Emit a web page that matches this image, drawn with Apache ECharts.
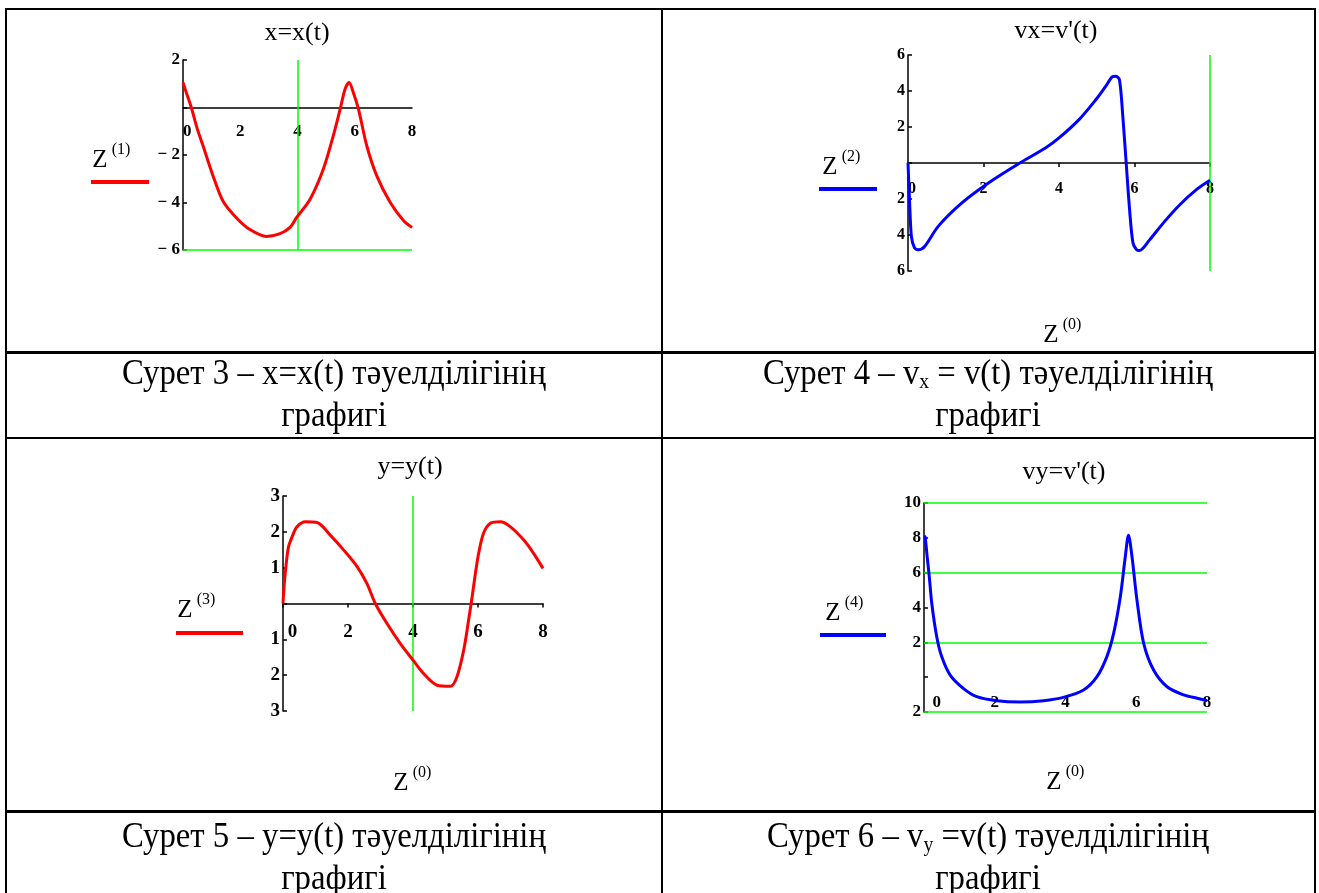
<!DOCTYPE html>
<html>
<head>
<meta charset="utf-8">
<script src="https://cdn.jsdelivr.net/npm/echarts@6/dist/echarts.min.js"></script>
<style>
html,body{margin:0;padding:0;background:#fff;}
#page{position:relative;width:1319px;height:893px;overflow:hidden;background:#fff;}
#chart{position:absolute;left:0;top:0;width:1319px;height:893px;}
.ln{position:absolute;background:#000;}
.cap{position:absolute;width:640px;text-align:center;font-family:"Liberation Serif","Times New Roman",serif;font-size:36px;line-height:42px;color:#000;transform:scaleX(0.91);white-space:nowrap;}
.cap sub{font-size:0.6em;vertical-align:-0.2em;line-height:0;}
</style>
</head>
<body>
<div id="page">
<div id="chart"></div>
<!-- рамка таблицы -->
<div class="ln" style="left:5px;top:8px;width:1311px;height:2px"></div>
<div class="ln" style="left:5px;top:351px;width:1311px;height:3px"></div>
<div class="ln" style="left:5px;top:437px;width:1311px;height:2px"></div>
<div class="ln" style="left:5px;top:810px;width:1311px;height:3px"></div>
<div class="ln" style="left:5px;top:8px;width:2px;height:885px"></div>
<div class="ln" style="left:661px;top:8px;width:2px;height:885px"></div>
<div class="ln" style="left:1314px;top:8px;width:2px;height:885px"></div>
<!-- подписи -->
<div class="cap" style="left:14px;top:351px">Сурет 3 – x=x(t) тәуелділігінің<br>графигі</div>
<div class="cap" style="left:668px;top:351px">Сурет 4 – v<sub>x</sub> = v(t) тәуелділігінің<br>графигі</div>
<div class="cap" style="left:14px;top:814px">Сурет 5 – y=y(t) тәуелділігінің<br>графигі</div>
<div class="cap" style="left:668px;top:814px">Сурет 6 – v<sub>y</sub> =v(t) тәуелділігінің<br>графигі</div>
</div>
<script>
// x=x(t)
var tX=[0,0.1,0.29,0.5,0.7,1.05,1.4,1.87,2.34,2.92,3.39,3.74,3.97,4.44,4.9,5.25,5.49,5.66,5.8,5.95,6.13,6.42,6.77,7.24,7.71,8.0];
var xVals=[1.05,0.68,0,-0.9,-1.61,-2.88,-3.95,-4.65,-5.14,-5.43,-5.31,-5.05,-4.63,-3.86,-2.6,-1.19,-0.07,0.77,1.05,0.63,-0.07,-1.61,-2.88,-4.0,-4.77,-5.05];
// vx=v'(t)
var tVx=[0,0.04,0.09,0.17,0.27,0.44,0.8,1.42,2.13,2.93,3.64,4.0,4.53,4.98,5.24,5.42,5.5,5.6,5.69,5.78,5.87,5.96,6.05,6.13,6.4,6.76,7.2,7.64,8.0];
var vxVals=[0,-2.04,-4.08,-4.7,-4.82,-4.64,-3.52,-2.23,-1.11,-0.04,0.83,1.39,2.41,3.53,4.27,4.8,4.82,4.64,2.6,0,-2.6,-4.45,-4.8,-4.86,-4.27,-3.34,-2.32,-1.48,-0.96];
// y=y(t)
var tY=[0,0.04,0.1,0.17,0.28,0.43,0.69,1.05,1.46,1.87,2.28,2.58,2.84,3.2,3.61,4.0,4.33,4.74,5.15,5.35,5.56,5.71,5.82,5.92,6.02,6.17,6.38,6.69,7.0,7.41,7.71,8.0];
var yVals=[0,0.56,1.12,1.58,1.86,2.14,2.28,2.26,1.9,1.49,1.03,0.56,0,-0.56,-1.12,-1.58,-1.96,-2.28,-2.31,-2.05,-1.3,-0.47,0.19,0.84,1.4,1.96,2.24,2.28,2.14,1.77,1.4,0.98];
// vy=v'(t)
var tVy=[0,0.03,0.09,0.15,0.22,0.36,0.5,0.74,1.11,1.49,2.06,2.72,3.38,3.94,4.51,4.89,5.17,5.36,5.55,5.69,5.78,5.88,6.02,6.21,6.49,6.87,7.34,7.72,8.0];
var vyVals=[8.1,8.06,6.9,5.76,4.23,2.32,1.18,0.12,-0.64,-1.12,-1.35,-1.42,-1.35,-1.16,-0.74,0.03,1.18,2.51,4.62,6.91,8.15,6.91,4.43,1.94,0.41,-0.55,-1.02,-1.21,-1.35];

// оси
var tRange=[0,8,2];
var yRanges=[[-6,2,2],[-6,6,2],[-3,3,1],[-2,10,2]];
var titles=["x=x(t)","vx=v'(t)","y=y(t)","vy=v'(t)"];
var legendIdx=["(1)","(2)","(3)","(4)"];

var serif='"Liberation Serif","Times New Roman",serif';

function pairs(t,v){
    var a=[];
    for(var i=0;i<t.length;i++){
        a.push([t[i],v[i]]);
    }
    return a;
}

var grids=[
    {left:183,top:60,width:229,height:190},
    {left:908,top:55,width:302,height:216},
    {left:283,top:496,width:260,height:215},
    {left:924,top:503,width:283,height:209}
];

// ось t: на нуле (line=true) или внизу без линии
function xAx(i,size,margin,tick,line,pad){
    var r=yRanges[i],g=grids[i];
    var off=line?-g.height*(0-r[0])/(r[1]-r[0]):0;
    return {
        gridIndex:i,type:'value',min:tRange[0],max:tRange[1],interval:tRange[2],
        position:'bottom',offset:off,
        axisLine:{show:line,onZero:false,lineStyle:{color:'#000',width:1.5}},
        axisTick:{show:tick,length:4,lineStyle:{color:'#000',width:1.5}},
        axisLabel:{color:'#000',fontFamily:serif,fontWeight:'bold',fontSize:size,margin:margin,inside:!line,
            formatter:function(v){return v==0?pad+'0':''+v;}},
        splitLine:{show:false}
    };
}
function yAx(i,size,minus){
    var r=yRanges[i];
    return {
        gridIndex:i,type:'value',min:r[0],max:r[1],interval:r[2],
        axisLine:{show:true,onZero:false,lineStyle:{color:'#000',width:1.5}},
        axisTick:{show:true,inside:true,length:4,lineStyle:{color:'#000',width:1.5}},
        axisLabel:{color:'#000',fontFamily:serif,fontWeight:'bold',fontSize:size,margin:3,
            formatter:function(v){
                if(v==0) return '';
                if(v<0) return minus?'− '+(-v):''+(-v);
                return ''+v;
            }},
        splitLine:{show:false}
    };
}

function green(data){
    return {silent:true,symbol:'none',z:1,animation:false,label:{show:false},
        lineStyle:{color:'#00ff00',width:1.5,type:'solid'},data:data};
}

function curve(i,data,color,ml){
    return {
        type:'line',xAxisIndex:i,yAxisIndex:i,data:data,showSymbol:false,smooth:0.3,
        lineStyle:{color:color,width:3},itemStyle:{color:color},z:3,animation:false,
        markLine:green(ml)
    };
}

function txt(x,y,s,size,weight){
    return {type:'text',x:x,y:y,z:10,style:{text:s,fill:'#000',font:(weight||'normal')+' '+size+'px '+serif,
        textAlign:'center',textVerticalAlign:'middle',align:'center',verticalAlign:'middle'}};
}
function seg(x1,x2,y,color){
    return {type:'line',z:10,shape:{x1:x1,y1:y,x2:x2,y2:y},style:{stroke:color,lineWidth:4}};
}
// подпись Z^(n)
function zLabel(x,y,idx){
    return [txt(x,y,'Z',25),txt(x+21,y-10,idx,16)];
}

var graphic=[
    txt(297,33,titles[0],26),
    txt(1056,31,titles[1],26),
    txt(410,467,titles[2],26),
    txt(1064,472,titles[3],26),
    seg(91,149,182,'#ff0000'),
    seg(819,877,189,'#0000ff'),
    seg(176,243,633,'#ff0000'),
    seg(820,886,635,'#0000ff')
];
graphic=graphic.concat(zLabel(100,160,legendIdx[0]),zLabel(830,167,legendIdx[1]),
    zLabel(185,610,legendIdx[2]),zLabel(833,613,legendIdx[3]),
    zLabel(1051,335,'(0)'),zLabel(401,783,'(0)'),zLabel(1054,782,'(0)'));

var option={
    animation:false,
    grid:grids,
    xAxis:[xAx(0,17,16,false,true,'\u2007'),xAx(1,16,18,true,true,'\u2007'),
        xAx(2,19,19,true,true,'\u2007\u2007'),xAx(3,17,1,false,false,'\u2007\u2007\u2007')],
    yAxis:[yAx(0,17,true),yAx(1,16,false),yAx(2,19,false),yAx(3,17,false)],
    series:[
        curve(0,pairs(tX,xVals),'#ff0000',[{xAxis:4},{yAxis:-6}]),
        curve(1,pairs(tVx,vxVals),'#0000ff',[{xAxis:8}]),
        curve(2,pairs(tY,yVals),'#ff0000',[{xAxis:4}]),
        curve(3,pairs(tVy,vyVals),'#0000ff',[{yAxis:10},{yAxis:6},{yAxis:2},{yAxis:-2}])
    ],
    graphic:graphic
};
var chart=echarts.init(document.getElementById('chart'));
chart.setOption(option);
</script>
</body>
</html>
